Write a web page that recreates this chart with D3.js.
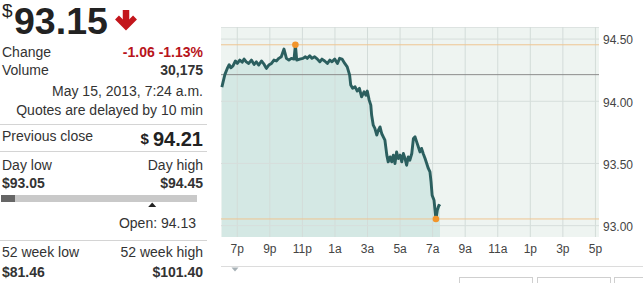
<!DOCTYPE html>
<html>
<head>
<meta charset="utf-8">
<script src="https://cdn.jsdelivr.net/npm/d3@7"></script>
<style>
  body { margin: 0; background: #fff; }
  svg { display: block; font-family: "Liberation Sans", Arial, sans-serif; }
</style>
</head>
<body>
<svg width="643" height="283"></svg>
<script>
// minutes after 6:00 p.m. (May 14, 2013) and price
const minutes = [5, 16, 25, 32, 38, 46, 55, 62, 71, 80, 87, 95, 104, 114, 124, 132, 141, 151, 161, 169,
  178, 188, 197, 206, 215, 224, 234, 243, 252, 261, 271, 276, 281, 292, 304, 313, 320, 329, 337, 347,
  357, 366, 374, 384, 394, 403, 411, 421, 431, 439, 448, 458, 467, 476, 480, 487, 496, 504, 512, 520,
  529, 536, 541, 548, 554, 557, 563, 569, 576, 582, 588, 594, 600, 606, 613, 618, 625, 631, 637, 643,
  649, 655, 662, 668, 674, 680, 686, 692, 698, 705, 711, 717, 723, 729, 735, 741, 747, 754, 760, 766,
  772, 776, 780, 787, 790, 794, 799, 805, 809]
const prices = [94.11, 94.21, 94.26, 94.29, 94.265, 94.28, 94.32, 94.30, 94.327, 94.31, 94.335, 94.313, 94.30, 94.327, 94.292, 94.313, 94.287, 94.32, 94.292, 94.26,
  94.287, 94.30, 94.327, 94.32, 94.341, 94.354, 94.416, 94.341, 94.327, 94.341, 94.335, 94.45, 94.327, 94.335, 94.341, 94.354, 94.341, 94.362, 94.341, 94.354,
  94.335, 94.313, 94.335, 94.32, 94.30, 94.327, 94.313, 94.335, 94.30, 94.341, 94.335, 94.30, 94.273, 94.206, 94.126, 94.10, 94.112, 94.078, 94.10, 94.032,
  94.072, 94.045, 94.078, 94.005, 93.965, 93.885, 93.804, 93.778, 93.724, 93.764, 93.79, 93.737, 93.71, 93.683, 93.563, 93.509, 93.549, 93.509, 93.563, 93.496,
  93.589, 93.536, 93.563, 93.509, 93.576, 93.536, 93.482, 93.549, 93.523, 93.576, 93.697, 93.71, 93.67, 93.63, 93.589, 93.617, 93.576, 93.536, 93.496, 93.456,
  93.428, 93.348, 93.241, 93.20, 93.134, 93.05, 93.12, 93.16, 93.15]

const previousClose = 94.21
const dayHigh = 94.45
const dayLow = 93.05
const openPrice = 94.13
const lastPrice = 93.15

const yTicks = [93.0, 93.5, 94.0, 94.5]
const xTickHours = [1, 3, 5, 7, 9, 11, 13, 15, 17, 19, 21, 23] // hours after 6p

const base = new Date(2013, 4, 14, 18, 0)
const data = minutes.map((m, i) => ({ t: d3.timeMinute.offset(base, m), p: prices[i] }))

const svg = d3.select("svg")
const font = "\"Liberation Sans\", Arial, sans-serif"
const fmt = d3.formatLocale({ decimal: ".", thousands: ",", grouping: [3], currency: ["$", ""], minus: "-" }).format(".2f")

// ---------- left panel ----------
const panel = svg.append("g")
const leftX = 2
const rightX = 203

function txt(x, y, s, opts) {
	opts = opts || {}
	return panel.append("text")
		.attr("x", x).attr("y", y)
		.attr("text-anchor", opts.anchor || "start")
		.style("font-size", (opts.size || 14) + "px")
		.style("font-weight", opts.bold ? "bold" : "normal")
		.style("fill", opts.color || "#333")
		.text(s)
}

txt(2, 17, "$", { size: 19, color: "#222" })
txt(14, 33.5, fmt(lastPrice), { size: 37.5, bold: true, color: "#222" })

// red down arrow
panel.append("path").attr("d", "M126,10 V25").attr("stroke", "#c3161c").attr("stroke-width", 6.5).attr("fill", "none")
panel.append("path").attr("d", "M117,17.5 L126,26.5 L135,17.5").attr("stroke", "#c3161c")
	.attr("stroke-width", 5.5).attr("fill", "none").attr("stroke-linejoin", "miter")

txt(leftX, 57, "Change")
txt(rightX, 57, fmt(lastPrice - previousClose) + " " + fmt((lastPrice - previousClose) / previousClose * 100) + "%",
	{ anchor: "end", bold: true, color: "#b8141b" })
txt(leftX, 75, "Volume")
txt(rightX, 75, "30,175", { anchor: "end", bold: true })
txt(rightX, 96, "May 15, 2013, 7:24 a.m.", { anchor: "end" })
txt(rightX, 115, "Quotes are delayed by 10 min", { anchor: "end" })

function sep(y) {
	panel.append("line").attr("x1", 0).attr("x2", 207).attr("y1", y).attr("y2", y)
		.attr("stroke", "#d4d4d4").attr("stroke-width", 1)
}
sep(124.5)
txt(leftX, 141, "Previous close")
panel.append("text").attr("x", rightX).attr("y", 146).attr("text-anchor", "end")
	.style("font-weight", "bold").style("fill", "#222")
	.call(t => {
		t.append("tspan").style("font-size", "15px").attr("dy", -2).text("$ ")
		t.append("tspan").style("font-size", "20px").attr("dy", 2).text(fmt(previousClose))
	})
sep(151.5)
txt(leftX, 170, "Day low")
txt(rightX, 170, "Day high", { anchor: "end" })
txt(leftX, 188, "$" + fmt(dayLow), { bold: true })
txt(rightX, 188, "$" + fmt(dayHigh), { anchor: "end", bold: true })

// day range bar
const rangeX = d3.scaleLinear().domain([dayLow, dayHigh]).range([1, 197])
panel.append("rect").attr("x", rangeX(dayLow)).attr("y", 195).attr("width", rangeX(dayHigh) - rangeX(dayLow)).attr("height", 7)
	.attr("fill", "#c9c9c9")
panel.append("rect").attr("x", rangeX(dayLow)).attr("y", 195).attr("width", rangeX(lastPrice) - rangeX(dayLow)).attr("height", 7)
	.attr("fill", "#666")
const ox = rangeX(openPrice)
panel.append("path").attr("d", `M${ox - 4},207 L${ox},202.5 L${ox + 4},207 Z`).attr("fill", "#222")
txt(196, 228, "Open: " + fmt(openPrice), { anchor: "end" })
sep(240.5)
txt(leftX, 257, "52 week low")
txt(rightX, 257, "52 week high", { anchor: "end" })
txt(leftX, 277, "$81.46", { bold: true })
txt(rightX, 277, "$101.40", { anchor: "end", bold: true })

// ---------- chart ----------
const plotL = 221, plotR = 599, plotT = 27, plotB = 237
const x = d3.scaleTime()
	.domain([base, d3.timeMinute.offset(base, 23 * 60 + 15)])
	.range([220.5, plotR])
const y = d3.scaleLinear()
	.domain([92.905, 94.593])
	.range([plotB, plotT])

const chart = svg.append("g")

chart.append("rect").attr("x", plotL).attr("y", plotT).attr("width", plotR - plotL).attr("height", plotB - plotT)
	.attr("fill", "#eef4f1")
chart.append("line").attr("x1", plotL).attr("x2", plotR).attr("y1", plotT + 0.5).attr("y2", plotT + 0.5)
	.attr("stroke", "#dde3e1")

// area under the line
const area = d3.area().x(d => x(d.t)).y0(plotB).y1(d => y(d.p))
chart.append("path").datum(data).attr("d", area).attr("fill", "#d4e8e4")

// grid
const xTicks = xTickHours.map(h => d3.timeHour.offset(base, h))
chart.append("g")
	.attr("transform", `translate(0,${plotB})`)
	.call(d3.axisBottom(x).tickValues(xTicks).tickSize(-(plotB - plotT)).tickFormat(""))
	.call(g => g.select(".domain").remove())
	.call(g => g.selectAll(".tick line").attr("stroke", "#d3dcd9"))
chart.append("g")
	.attr("transform", `translate(${plotL},0)`)
	.call(d3.axisLeft(y).tickValues(yTicks).tickSize(-(plotR - plotL)).tickFormat(""))
	.call(g => g.select(".domain").remove())
	.call(g => g.selectAll(".tick line").attr("stroke", "#d6dedb"))

// reference lines
function hline(v, color) {
	chart.append("line").attr("x1", plotL).attr("x2", plotR).attr("y1", y(v)).attr("y2", y(v))
		.attr("stroke", color).attr("stroke-width", 1)
}
hline(dayHigh, "#efc591")
hline(dayLow, "#efc591")
hline(previousClose, "#8c8c8c")

// price line
const line = d3.line().x(d => x(d.t)).y(d => y(d.p))
chart.append("path").datum(data).attr("d", line).attr("fill", "none")
	.attr("stroke", "#2b5f5f").attr("stroke-width", 2.9).attr("stroke-linejoin", "round")

// high / low markers
const hi = data.reduce((a, b) => (b.p > a.p ? b : a))
const lo = data.reduce((a, b) => (b.p < a.p ? b : a))
chart.selectAll(".mark").data([hi, lo]).join("circle")
	.attr("cx", d => x(d.t)).attr("cy", d => y(d.p)).attr("r", 3.3)
	.attr("fill", "#f2952b")

// axes labels
chart.append("g")
	.attr("transform", `translate(0,${plotB})`)
	.call(d3.axisBottom(x).tickValues(xTicks).tickSize(0).tickPadding(7.5)
		.tickFormat(d => d3.timeFormat("%-I")(d) + (d.getHours() < 12 ? "a" : "p")))
	.call(g => g.select(".domain").remove())
	.call(g => g.selectAll("text").style("font-size", "12px").style("font-family", font).attr("fill", "#444"))
chart.append("g")
	.attr("transform", `translate(${plotR},1.5)`)
	.call(d3.axisRight(y).tickValues(yTicks).tickSize(0).tickPadding(4).tickFormat(fmt))
	.call(g => g.select(".domain").remove())
	.call(g => g.selectAll("text").style("font-size", "12px").style("font-family", font).attr("fill", "#444"))

// bottom strip
chart.append("line").attr("x1", plotL).attr("x2", 643).attr("y1", 266.5).attr("y2", 266.5).attr("stroke", "#dcdcdc")
chart.append("path").attr("d", "M231.5,267.5 L238.5,267.5 L235,271.5 Z").attr("fill", "#a7b1b6")
const buttons = [[459, 73], [537, 73], [614, 40]]
chart.selectAll(".btn").data(buttons).join("rect")
	.attr("x", d => d[0] + 0.5).attr("y", 277.5).attr("width", d => d[1]).attr("height", 20)
	.attr("fill", "#fff").attr("stroke", "#cfcfcf")
</script>
</body>
</html>
